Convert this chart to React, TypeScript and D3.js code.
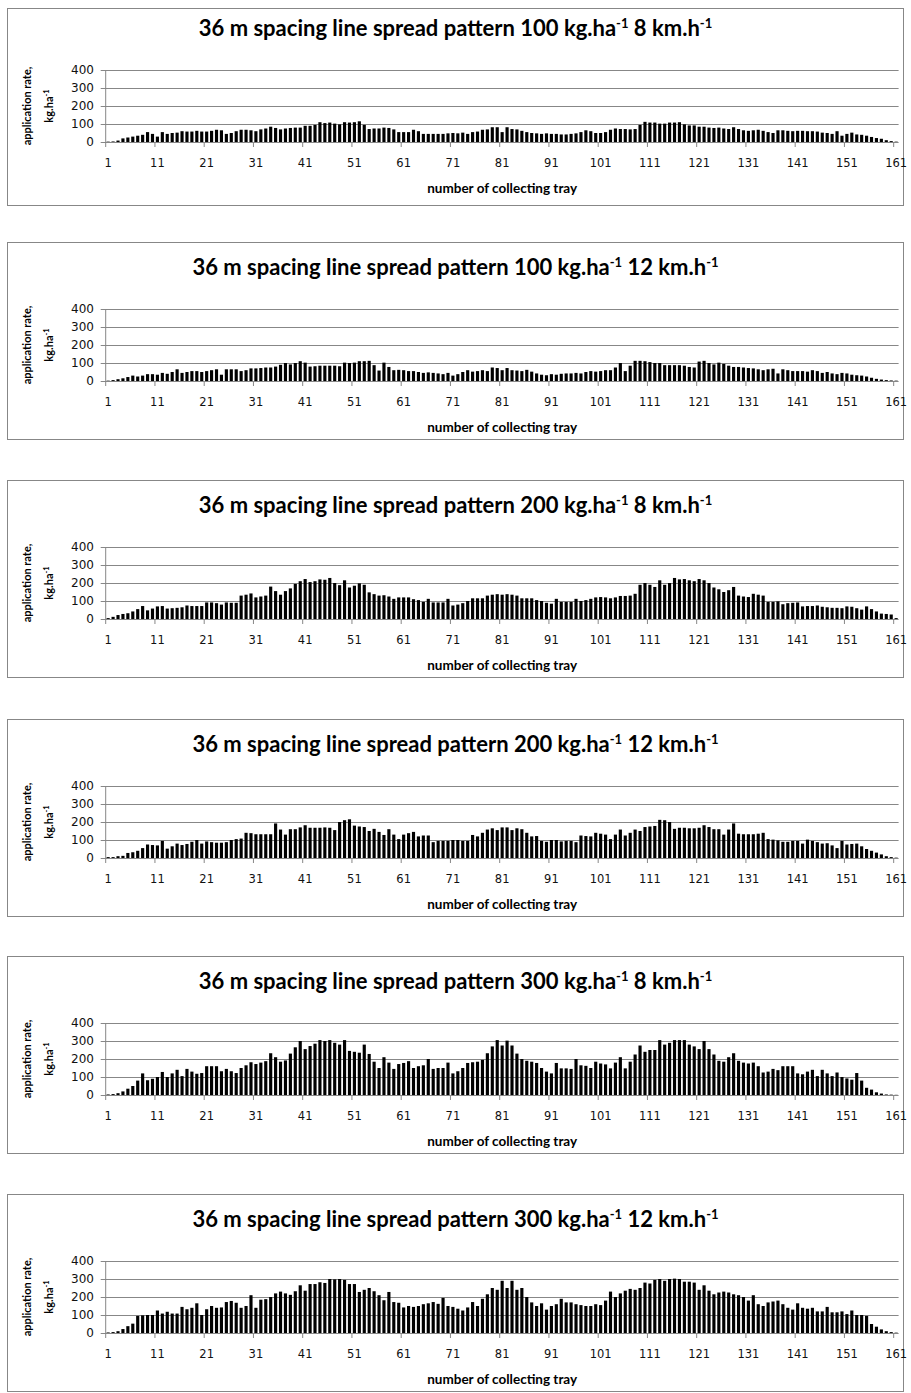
import React from 'react';
import * as d3 from 'd3';

// tray numbers and axis ticks
const trays = d3.range(1, 162);
const xTickLabels = d3.range(1, 162, 10);
const yTicks = [0, 100, 200, 300, 400];

// application rate per tray, kg/ha
const rate100Speed8 = [
  2, 3, 8, 20, 25, 30, 35, 40, 55, 45,
  30, 55, 45, 50, 52, 60, 58, 58, 62, 58,
  58, 62, 68, 65, 45, 50, 60, 68, 68, 65,
  60, 70, 75, 85, 78, 70, 75, 78, 80, 80,
  90, 90, 95, 110, 105, 108, 102, 98, 110, 108,
  110, 115, 95, 72, 75, 75, 80, 78, 70, 55,
  55, 55, 68, 60, 45, 45, 45, 45, 45, 48,
  50, 48, 52, 45, 55, 58, 68, 70, 82, 82,
  55, 82, 72, 70, 62, 55, 50, 48, 45, 48,
  45, 45, 42, 42, 45, 48, 55, 65, 60, 50,
  50, 55, 68, 75, 72, 72, 70, 72, 95, 112,
  108, 108, 102, 102, 108, 108, 110, 98, 92, 92,
  85, 85, 80, 78, 80, 75, 72, 82, 72, 65,
  62, 65, 68, 62, 55, 50, 65, 65, 62, 60,
  62, 62, 60, 60, 58, 52, 50, 45, 60, 35,
  45, 52, 42, 40, 35, 28, 22, 18, 10, 5,
  2,
];

const rate100Speed12 = [
  2, 5, 10, 15, 22, 30, 25, 30, 38, 38,
  35, 45, 40, 50, 65, 45, 50, 55, 55, 50,
  55, 60, 65, 35, 65, 65, 65, 55, 60, 70,
  70, 72, 75, 75, 80, 90, 100, 92, 100, 110,
  102, 80, 82, 85, 85, 85, 85, 82, 102, 100,
  102, 110, 110, 112, 88, 58, 102, 78, 60, 62,
  60, 55, 55, 50, 45, 48, 45, 42, 38, 45,
  30, 38, 50, 60, 52, 55, 60, 55, 75, 72,
  60, 72, 60, 58, 55, 62, 52, 42, 35, 32,
  38, 35, 40, 42, 42, 45, 42, 50, 55, 52,
  55, 60, 60, 75, 100, 55, 85, 112, 112, 110,
  105, 100, 100, 88, 88, 88, 88, 85, 78, 75,
  108, 112, 100, 92, 102, 95, 85, 78, 78, 75,
  72, 70, 65, 60, 65, 68, 42, 65, 60, 55,
  55, 55, 52, 60, 55, 45, 50, 42, 38, 45,
  42, 35, 32, 30, 25, 18, 12, 8, 5, 3,
  2,
];

const rate200Speed8 = [
  5, 12, 22, 28, 32, 42, 55, 72, 48, 58,
  70, 72, 58, 60, 62, 65, 75, 72, 72, 72,
  92, 92, 88, 80, 92, 90, 90, 130, 135, 142,
  120, 125, 130, 180, 155, 135, 155, 170, 195, 210,
  222, 205, 210, 220, 218, 228, 200, 188, 215, 175,
  185, 198, 190, 148, 138, 130, 132, 125, 112, 120,
  120, 120, 110, 105, 95, 112, 92, 92, 92, 112,
  75, 80, 88, 100, 115, 115, 115, 130, 135, 138,
  135, 138, 135, 130, 115, 115, 115, 105, 100, 90,
  85, 112, 95, 95, 95, 112, 100, 105, 112, 120,
  122, 120, 115, 120, 128, 128, 130, 140, 190, 200,
  190, 178, 215, 190, 200, 228, 220, 222, 215, 210,
  222, 215, 200, 175, 165, 150, 160, 178, 130, 125,
  122, 140, 135, 130, 95, 95, 98, 82, 88, 90,
  92, 70, 72, 72, 75, 68, 65, 62, 62, 60,
  70, 68, 60, 52, 70, 55, 42, 30, 28, 25,
  5,
];

const rate200Speed12 = [
  5, 5, 10, 12, 28, 32, 40, 55, 75, 72,
  70, 95, 52, 65, 80, 72, 78, 90, 100, 80,
  92, 88, 85, 85, 88, 100, 105, 108, 140, 138,
  132, 132, 132, 132, 192, 158, 130, 160, 160, 170,
  182, 168, 168, 168, 170, 168, 155, 200, 210, 215,
  180, 175, 172, 150, 162, 145, 128, 160, 130, 105,
  130, 138, 145, 120, 125, 125, 88, 95, 95, 95,
  100, 100, 95, 95, 128, 120, 140, 158, 165, 155,
  170, 170, 155, 165, 160, 140, 120, 122, 95, 90,
  100, 100, 92, 95, 95, 88, 125, 122, 120, 140,
  135, 130, 105, 130, 158, 125, 140, 158, 150, 172,
  175, 178, 212, 210, 200, 162, 168, 168, 165, 165,
  168, 182, 172, 160, 160, 130, 158, 192, 135, 132,
  132, 132, 135, 140, 105, 102, 98, 90, 90, 95,
  95, 80, 102, 95, 88, 80, 82, 70, 55, 95,
  75, 78, 80, 65, 50, 40, 30, 20, 10, 5,
  2,
];

const rate300Speed8 = [
  3, 5, 10, 20, 35, 50, 80, 120, 82, 90,
  100, 128, 100, 120, 140, 105, 145, 130, 118, 122,
  160, 160, 160, 132, 145, 132, 122, 150, 165, 182,
  172, 180, 188, 232, 210, 185, 192, 230, 265, 300,
  255, 272, 285, 305, 300, 305, 290, 280, 305, 245,
  240, 235, 280, 228, 185, 150, 210, 180, 145, 172,
  178, 188, 150, 160, 165, 200, 145, 150, 150, 180,
  120, 132, 150, 178, 182, 185, 195, 232, 270, 305,
  275, 302, 275, 230, 200, 190, 185, 178, 150, 130,
  120, 178, 148, 148, 145, 200, 165, 162, 150, 185,
  175, 170, 148, 180, 210, 148, 185, 225, 275, 240,
  250, 250, 305, 280, 290, 305, 305, 305, 280, 270,
  255, 300, 255, 225, 190, 185, 210, 232, 190, 180,
  175, 180, 160, 125, 130, 145, 138, 160, 160, 160,
  120, 115, 130, 140, 105, 140, 120, 105, 125, 100,
  92, 85, 122, 80, 40, 30, 15, 8, 3, 2,
  1,
];

const rate300Speed12 = [
  3, 5, 10, 22, 38, 52, 95, 98, 100, 100,
  125, 108, 118, 108, 108, 145, 132, 140, 165, 100,
  132, 150, 140, 142, 172, 178, 168, 140, 150, 210,
  140, 185, 188, 200, 220, 230, 220, 212, 232, 265,
  235, 272, 272, 282, 278, 300, 298, 300, 295, 272,
  272, 228, 240, 250, 232, 210, 182, 228, 172, 168,
  142, 150, 145, 150, 160, 165, 172, 162, 195, 150,
  145, 135, 125, 142, 172, 150, 190, 215, 250, 240,
  290, 250, 290, 240, 250, 200, 170, 150, 165, 130,
  150, 160, 190, 170, 170, 160, 155, 150, 150, 160,
  155, 180, 230, 200, 220, 235, 245, 240, 250, 280,
  275, 295, 300, 290, 300, 302, 300, 285, 285, 280,
  240, 265, 235, 215, 225, 230, 225, 215, 210, 200,
  180, 210, 160, 150, 170, 175, 180, 160, 140, 130,
  165, 140, 135, 140, 120, 120, 145, 115, 115, 120,
  105, 125, 100, 100, 95, 50, 35, 20, 10, 5,
  2,
];

const charts = [
  { rate: '100', speed: '8', values: rate100Speed8 },
  { rate: '100', speed: '12', values: rate100Speed12 },
  { rate: '200', speed: '8', values: rate200Speed8 },
  { rate: '200', speed: '12', values: rate200Speed12 },
  { rate: '300', speed: '8', values: rate300Speed8 },
  { rate: '300', speed: '12', values: rate300Speed12 },
];

const W = 911;
const H = 1393;
const panelTops = [3, 242, 480, 719, 956, 1194];
const frameLeft = 7.5;
const frameRight = 903.5;
const plotLeft = 105.7;
const plotRight = 898.6;
const grey = '#878787';
const labelFont = 'Lato, "Open Sans", sans-serif';
const tickFont = '"DejaVu Sans", Verdana, sans-serif';

function Panel({ chart, top, first }: { chart: any; top: number; first: boolean }) {
  const frameTop = first ? 8.5 : top + 0.5;
  const frameBottom = first ? 205.5 : top + 197.5;
  const plotTop = top + 67;
  const plotBottom = top + 139;

  const x = d3.scaleBand<number>()
    .domain(trays)
    .range([plotLeft, plotRight])
    .paddingInner(0.36)
    .paddingOuter(0.18);
  const y = d3.scaleLinear().domain([0, 400]).range([plotBottom, plotTop]);
  const edge = (t: number) => (x(t) ?? 0) - x.step() * 0.18;
  const midY = (plotTop + plotBottom) / 2;

  return (
    <g>
      <rect x={frameLeft} y={frameTop} width={frameRight - frameLeft} height={frameBottom - frameTop}
        fill="#fff" stroke={grey} strokeWidth={1} />

      <text x={(frameLeft + frameRight) / 2} y={top + 33} textAnchor="middle"
        fontFamily={labelFont} fontWeight="bold" fontSize={22} fill="#000">
        36 m spacing line spread pattern {chart.rate} kg.ha
        <tspan dy={-8} fontSize={13}>-1</tspan>
        <tspan dy={8}> {chart.speed} km.h</tspan>
        <tspan dy={-8} fontSize={13}>-1</tspan>
      </text>

      {/* grid + y ticks */}
      {yTicks.map(v => (
        <g key={v}>
          <line x1={plotLeft - 5} x2={plotRight} y1={Math.round(y(v)) + 0.5} y2={Math.round(y(v)) + 0.5}
            stroke={grey} strokeWidth={1} />
          <text x={94} y={y(v)} dy="0.36em" textAnchor="end" fontFamily={tickFont} fontSize={12} fill="#111">{v}</text>
        </g>
      ))}
      <line x1={plotLeft} x2={plotLeft} y1={plotTop} y2={plotBottom} stroke={grey} strokeWidth={1} />

      {/* bars */}
      {chart.values.map((v: number, i: number) => (
        <rect key={i} x={x(trays[i])} y={y(v)} width={x.bandwidth()} height={plotBottom - y(v)} fill="#000" />
      ))}

      {/* x ticks and labels */}
      {xTickLabels.map(t => (
        <g key={t}>
          <line x1={edge(t)} x2={edge(t)} y1={plotBottom} y2={plotBottom + 5} stroke={grey} strokeWidth={1} />
          <text x={(x(t) ?? 0) + x.bandwidth() / 2} y={plotBottom + 21} dy="0.36em" textAnchor="middle"
            fontFamily={tickFont} fontSize={11.5} fill="#111">{t}</text>
        </g>
      ))}

      <text x={(plotLeft + plotRight) / 2} y={top + 185} dy="0.36em" textAnchor="middle"
        fontFamily={labelFont} fontWeight="bold" fontSize={13.5} fill="#000">number of collecting tray</text>

      <text transform={`translate(31,${midY}) rotate(-90)`} textAnchor="middle"
        fontFamily={labelFont} fontWeight="bold" fontSize={11} fill="#000">application rate,</text>
      <text transform={`translate(53,${midY}) rotate(-90)`} textAnchor="middle"
        fontFamily={labelFont} fontWeight="bold" fontSize={11} fill="#000">
        kg.ha<tspan dy={-4} fontSize={7.5}>-1</tspan>
      </text>
    </g>
  );
}

export default function App() {
  return (
    <svg width={W} height={H} style={{ position: 'absolute', left: 0, top: 0, background: '#fff' }}>
      {charts.map((c, i) => (
        <Panel key={i} chart={c} top={panelTops[i]} first={i === 0} />
      ))}
    </svg>
  );
}
